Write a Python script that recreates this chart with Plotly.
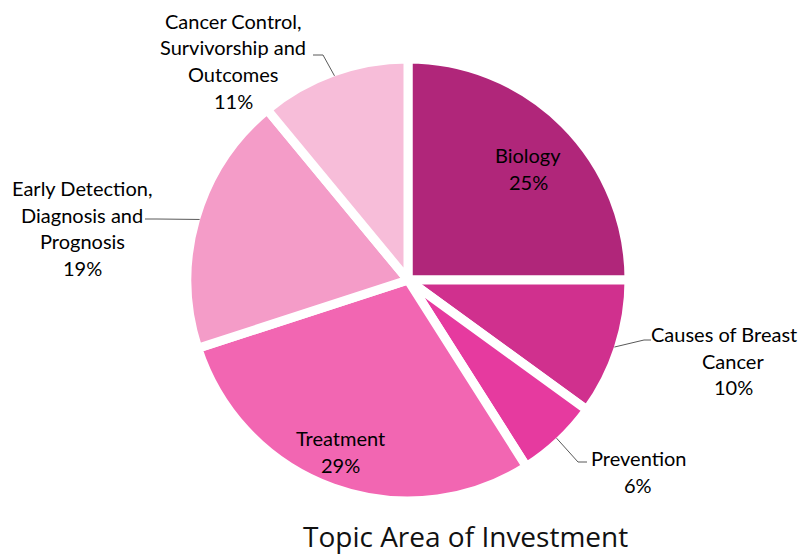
import math
import plotly.graph_objects as go

# ---- data ----
labels = ["Biology", "Causes of Breast Cancer", "Prevention", "Treatment",
          "Early Detection, Diagnosis and Prognosis",
          "Cancer Control, Survivorship and Outcomes"]
label_lines = [["Biology"], ["Causes of Breast", "Cancer"], ["Prevention"], ["Treatment"],
               ["Early Detection,", "Diagnosis and", "Prognosis"],
               ["Cancer Control,", "Survivorship and", "Outcomes"]]
values = [25, 10, 6, 29, 19, 11]
colors = ["#B0267A", "#D0308E", "#E63A9F", "#F266B2", "#F49CC8", "#F7BDD9"]
title_text = "Topic Area of Investment"

# ---- layout geometry (window pixels) ----
W, H = 807, 557
OFF = 8  # page body margin
CX, CY, R = 408, 280, 221
LINE_H = 26.5

def px(x):
    return (x - OFF) / W

def py(y):
    return 1 - (y - OFF) / H

# label anchor: center x, y of first line; optional per-line x override
label_pos = [(528, 155), (733, 334), (638, 458), (340, 438), (82, 188), (233, 21)]
line_x_override = {(1, 0): 724}
leader = [None, [(644, 340), (651, 340)], [(578, 462), (587, 462)], None,
          [(157, 219), (145, 219)], [(323, 55), (313, 55)]]

fig = go.Figure(go.Pie(
    labels=labels,
    values=values,
    sort=False,
    direction="clockwise",
    rotation=0,
    marker=dict(colors=colors, line=dict(color="white", width=9)),
    textinfo="none",
    hoverinfo="label+percent",
    showlegend=False,
    domain=dict(x=[px(CX - R), px(CX + R)], y=[py(CY + R), py(CY - R)]),
))

total = sum(values)
cum = 0
annotations = []
shapes = []
font_lbl = dict(family="Lato, 'Open Sans', sans-serif", size=20, color="#000000")
for i, v in enumerate(values):
    pct = round(100 * v / total)
    lx, ly = label_pos[i]
    lines = label_lines[i] + [f"{pct}%"]
    for j, t in enumerate(lines):
        x = line_x_override.get((i, j), lx)
        annotations.append(dict(
            x=px(x), y=py(ly + j * LINE_H), xref="paper", yref="paper",
            text=t, showarrow=False,
            xanchor="center", yanchor="middle", align="center", font=font_lbl))
    theta = 2 * math.pi * (cum + v / 2) / total
    r_in = R - 4
    sx = CX + r_in * math.sin(theta)
    sy = CY - r_in * math.cos(theta)
    if leader[i]:
        (ex, ey), (tx, ty) = leader[i]
        path = f"M {px(sx)} {py(sy)} L {px(ex)} {py(ey)} L {px(tx)} {py(ty)}"
        shapes.append(dict(type="path", path=path, xref="paper", yref="paper",
                           line=dict(color="#595959", width=1)))
    cum += v

annotations.append(dict(
    x=px(465), y=py(536), xref="paper", yref="paper", text=title_text,
    showarrow=False, xanchor="center", yanchor="middle",
    font=dict(family="'Open Sans', sans-serif", size=28, color="#111111")))

fig.update_layout(
    width=W, height=H,
    margin=dict(l=0, r=0, t=0, b=0),
    paper_bgcolor="white", plot_bgcolor="white",
    annotations=annotations, shapes=shapes,
)

fig.write_html("out.html")
